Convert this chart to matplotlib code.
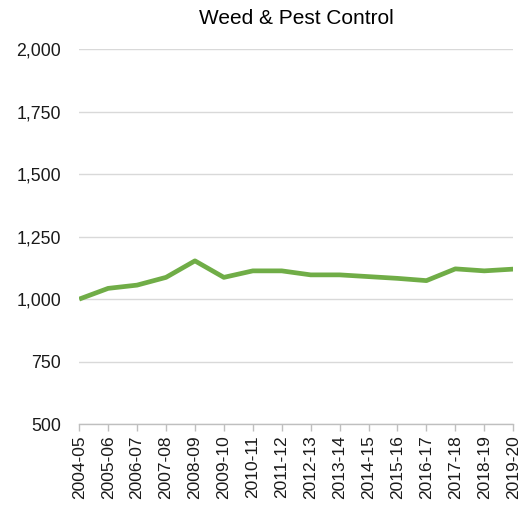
import matplotlib.pyplot as plt
from matplotlib.ticker import FuncFormatter

plt.rcParams['font.family'] = ['Liberation Sans', 'DejaVu Sans']

# region Data
years = ["2004-05", "2005-06", "2006-07", "2007-08", "2008-09", "2009-10",
         "2010-11", "2011-12", "2012-13", "2013-14", "2014-15", "2015-16",
         "2016-17", "2017-18", "2018-19", "2019-20"]
index_values = [1000, 1043, 1056, 1087, 1153, 1087, 1113, 1113, 1097, 1097,
                1090, 1083, 1074, 1121, 1113, 1120]
y_ticks = [500, 750, 1000, 1250, 1500, 1750, 2000]
# endregion

# region Graph
fig = plt.figure(figsize=(5.28, 5.08), dpi=100)
ax = fig.add_axes([0.150, 0.165, 0.822, 0.7385])

x = list(range(len(years)))
ax.plot(x, index_values, color='#70AD47', linewidth=3.4, solid_capstyle='butt', zorder=3)

ax.set_xlim(0, len(years) - 1)
ax.set_ylim(500, 2000)
ax.set_yticks(y_ticks)
ax.yaxis.set_major_formatter(FuncFormatter(lambda v, p: f"{int(v):,}"))
ax.set_xticks(x)
ax.set_xticklabels(years, rotation=90)

ax.grid(axis='y', color='#d9d9d9', linewidth=1.0)
ax.set_axisbelow(True)
for side in ['top', 'right', 'left']:
    ax.spines[side].set_visible(False)
ax.spines['bottom'].set_color('#bfbfbf')
ax.spines['bottom'].set_linewidth(1.0)

ax.tick_params(axis='y', length=0, pad=13, labelsize=12.8, labelcolor='#1a1a1a')
ax.tick_params(axis='x', length=5, color='#bfbfbf', width=1.0, pad=3,
               labelsize=12.5, labelcolor='#1a1a1a')

ax.set_title('Weed & Pest Control', fontsize=15, pad=18)

fig.savefig('out.png', dpi=100)
# endregion
